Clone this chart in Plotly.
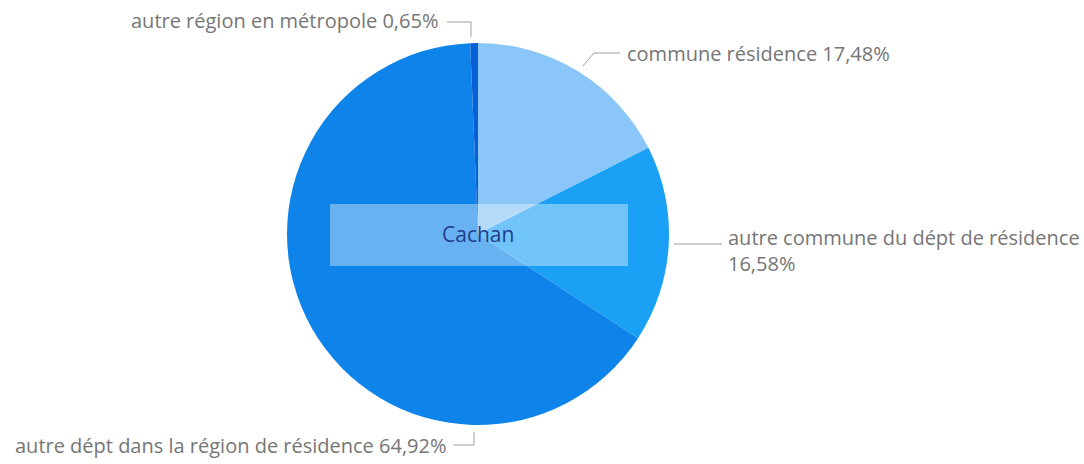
import math
import plotly.graph_objects as go

# ---- data ----
categories = [
    "commune résidence",
    "autre commune du dépt de résidence",
    "autre dépt dans la région de résidence",
    "autre région en métropole",
]
values = [17.48, 16.58, 64.92, 0.65]
value_labels = ["17,48%", "16,58%", "64,92%", "0,65%"]
center_label = "Cachan"

# ---- styles / layout ----
colors = ["#8AC6F7", "#1AA0F5", "#0E84EA", "#0860D8"]
W, H = 1084, 464
CX, CY, R = 478, 234, 191
TEXT_COLOR = "#767676"
LINE_COLOR = "#A0A0A0"
FONT = "Open Sans"


def px(x):
    return x / W


def py(y):
    return 1 - y / H


fig = go.Figure(
    go.Pie(
        labels=categories,
        values=values,
        sort=False,
        direction="clockwise",
        rotation=0,
        marker=dict(colors=colors, line=dict(width=0)),
        textinfo="none",
        hoverinfo="label+percent",
        showlegend=False,
        domain=dict(x=[px(CX - R), px(CX + R)], y=[py(CY + R), py(CY - R)]),
    )
)

# label placement (pixel positions of leader lines and text anchors)
label_layout = [
    # (line points, text x, text y, xanchor, text)
    ([(583, 66), (594, 53), (620, 53)], 625, 53, "left",
     f"{categories[0]} {value_labels[0]}"),
    ([(674, 244), (722, 244)], 726, 250, "left",
     f"{categories[1]}<br>{value_labels[1]}"),
    ([(474, 432), (474, 445), (453, 445)], 448, 445, "right",
     f"{categories[2]} {value_labels[2]}"),
    ([(471, 37), (471, 22), (447, 22)], 440, 21, "right",
     f"{categories[3]} {value_labels[3]}"),
]

shapes = []
annotations = []
for pts, tx, ty, xa, txt in label_layout:
    path = "M " + " L ".join(f"{px(x):.5f},{py(y):.5f}" for x, y in pts)
    shapes.append(dict(type="path", xref="paper", yref="paper", path=path,
                       line=dict(color=LINE_COLOR, width=1)))
    annotations.append(dict(x=px(tx), y=py(ty), xref="paper", yref="paper",
                            text=txt, showarrow=False, xanchor=xa,
                            yanchor="middle", align="left",
                            font=dict(family=FONT, size=20, color=TEXT_COLOR)))

# central translucent label box
shapes.append(dict(type="rect", xref="paper", yref="paper",
                   x0=px(330), x1=px(628), y0=py(266), y1=py(204),
                   fillcolor="rgba(255,255,255,0.38)", line=dict(width=0),
                   layer="above"))
annotations.append(dict(x=px(478), y=py(234), xref="paper", yref="paper",
                        text=center_label, showarrow=False,
                        font=dict(family=FONT, size=21, color="#1F3D8C")))

fig.update_layout(
    width=W, height=H,
    margin=dict(l=0, r=0, t=0, b=0),
    paper_bgcolor="white", plot_bgcolor="white",
    shapes=shapes, annotations=annotations,
)

fig.write_html("out.html",
               config={"displayModeBar": False},
               post_script="document.body.style.margin='0';")
